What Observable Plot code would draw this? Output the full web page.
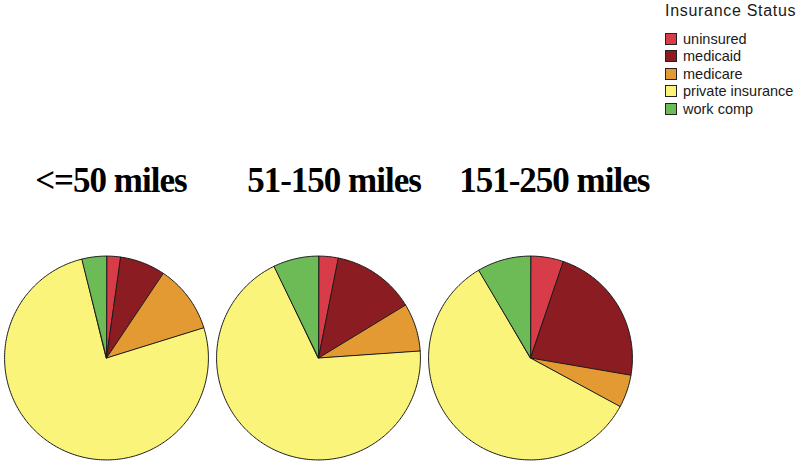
<!DOCTYPE html>
<html>
<head>
<meta charset="utf-8">
<script src="https://cdn.jsdelivr.net/npm/d3@7"></script>
<script src="https://cdn.jsdelivr.net/npm/@observablehq/plot@0.6"></script>
<style>
  body { margin: 0; background: #fff; }
  #wrap { position: relative; width: 800px; height: 464px; overflow: hidden; background: #fff; }
  #legend { position: absolute; left: 665px; top: 2px; font-family: "Liberation Sans", Arial, sans-serif; color: #1a1a1a; }
  #legend .title { font-size: 16px; line-height: 18px; margin-bottom: 10px; white-space: nowrap; letter-spacing: 0.7px; }
  #legend .item { display: flex; align-items: center; height: 17.5px; font-size: 14.5px; white-space: nowrap; }
  #legend .sw { width: 10px; height: 10px; border: 1px solid #222; margin-right: 6px; flex: none; }
  #chart svg text { letter-spacing: -1px; }
</style>
</head>
<body>
<div id="wrap">
  <div id="chart"></div>
  <div id="legend"></div>
</div>
<script>
// ---- data (percent shares, clockwise from 12 o'clock) ----
const distances = ["<=50 miles", "51-150 miles", "151-250 miles"];
const statuses = ["uninsured", "medicaid", "medicare", "private insurance", "work comp"];
const le50 = [2.2, 7.2, 10.8, 75.9, 3.9];
const d51to150 = [3.1, 13.2, 7.6, 68.9, 7.2];
const d151to250 = [5.2, 22.5, 5.2, 58.6, 8.5];
const colors = ["#d83c48", "#8b1c21", "#e49a33", "#faf47b", "#6cbb57"];
const legendTitle = "Insurance Status";

// ---- build slice outlines with d3.pie ----
const shares = [le50, d51to150, d151to250];
const rows = [];
distances.forEach((dist, i) => {
  const arcs = d3.pie().sort(null)(shares[i]);
  arcs.forEach((a, j) => {
    const key = dist + "|" + statuses[j];
    const span = a.endAngle - a.startAngle;
    const n = Math.max(2, Math.ceil(span / (Math.PI / 180)));
    rows.push({distance: dist, status: statuses[j], key, x: 0, y: 0});
    for (let k = 0; k <= n; ++k) {
      const ang = a.startAngle + span * k / n;
      rows.push({distance: dist, status: statuses[j], key, x: Math.sin(ang), y: Math.cos(ang)});
    }
  });
});

const chart = Plot.plot({
  width: 800,
  height: 464,
  marginLeft: 0,
  marginRight: 164,
  marginTop: 0,
  marginBottom: 0,
  fx: {domain: distances, padding: 0, axis: null},
  x: {domain: [-1.04, 1.04], axis: null},
  y: {domain: [-1.045, 3.508], axis: null},
  color: {domain: statuses, range: colors},
  style: {background: "#fff"},
  marks: [
    Plot.line(rows, {
      fx: "distance", x: "x", y: "y", z: "key",
      fill: "status", stroke: "#1a1a1a", strokeWidth: 1,
      curve: "linear-closed"
    }),
    Plot.text(distances, {
      fx: d => d, x: -0.7, y: 1.74, text: d => d,
      textAnchor: "start", fontSize: 35, fontWeight: "bold",
      fontFamily: "Liberation Serif, Times New Roman, serif", fill: "#000"
    })
  ]
});
document.getElementById("chart").appendChild(chart);

// ---- legend ----
const legend = document.getElementById("legend");
const t = document.createElement("div");
t.className = "title";
t.textContent = legendTitle;
legend.appendChild(t);
statuses.forEach((s, i) => {
  const item = document.createElement("div");
  item.className = "item";
  const sw = document.createElement("span");
  sw.className = "sw";
  sw.style.background = colors[i];
  const lab = document.createElement("span");
  lab.textContent = s;
  item.appendChild(sw);
  item.appendChild(lab);
  legend.appendChild(item);
});
</script>
</body>
</html>
